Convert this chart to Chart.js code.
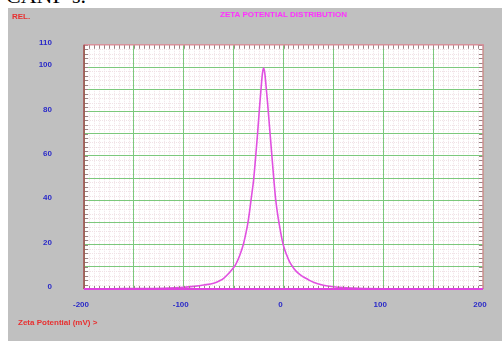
<!DOCTYPE html>
<html>
<head>
<meta charset="utf-8">
<script src="https://cdn.jsdelivr.net/npm/chart.js@4/dist/chart.umd.min.js"></script>
<style>
    html, body { margin: 0; padding: 0; background: #fff; width: 502px; height: 341px; overflow: hidden; }
    #caption { position: absolute; left: 6px; top: -15px; font-family: "Liberation Serif", serif; font-size: 22px; line-height: 22px; color: #000; }
    #panel { position: absolute; left: 8px; top: 8px; width: 494px; height: 333px; background: #c0c0c0; }
</style>
</head>
<body>
<div id="caption">CANP-s.</div>
<div id="panel"><canvas id="zetaChart"></canvas></div>
<script>
// Zeta potential (mV) and relative intensity
const zetaMv = [-200, -180, -160, -140, -120, -100, -90, -80, -70, -64, -60, -56, -52, -48,
    -44, -40, -38, -36, -34, -32, -30, -28, -26, -24, -22, -21, -20, -19, -18,
    -16, -14, -12, -10, -8, -6, -4, -2, 0, 3, 6, 10, 15, 20, 25, 30, 40, 50,
    60, 70, 80, 100, 120, 140, 160, 180, 200];
const relIntensity = [0.05, 0.1, 0.15, 0.2, 0.3, 0.75, 1.2, 1.8, 2.6, 3.7, 4.8, 6.5, 8.6, 11,
    15, 20.5, 24.5, 29, 35, 42, 49, 59, 70, 82, 93, 97.5, 99.5, 98, 94,
    84, 73, 62, 51, 41, 34, 28.5, 23.5, 19.5, 15.5, 12.3, 9.5, 7, 5.4, 4.2, 3, 1.7, 1,
    0.6, 0.4, 0.25, 0.1, 0.05, 0.05, 0.05, 0.05, 0.05];

// Axis ranges and labelled ticks
const xLabels = [-200, -100, 0, 100, 200];
const yLabels = [0, 20, 40, 60, 80, 100, 110];

const chartTitle = 'ZETA POTENTIAL DISTRIBUTION';
const yTitle = 'REL.';
const xTitle = 'Zeta Potential (mV) >';

const tickFont = { family: 'Arial, "Liberation Sans", sans-serif', size: 8, weight: 'bold' };
const labelBlue = '#2a2ac8';

// White plot area with the fine dotted grid underneath the green one
const plotBackground = {
    id: 'plotBackground',
    beforeDraw(chart) {
        const { ctx, chartArea: a, scales } = chart;
        ctx.save();
        ctx.fillStyle = '#ffffff';
        ctx.fillRect(a.left, a.top, a.right - a.left, a.bottom - a.top);
        ctx.strokeStyle = '#f0e2e6';
        ctx.lineWidth = 1;
        ctx.setLineDash([1, 1]);
        ctx.beginPath();
        for (let v = -200; v <= 200; v += 5) {
            if (v % 50 === 0) continue;
            const x = Math.round(scales.x.getPixelForValue(v)) + 0.5;
            ctx.moveTo(x, a.top);
            ctx.lineTo(x, a.bottom);
        }
        for (let v = 0; v <= 110; v += 2) {
            if (v % 10 === 0) continue;
            const y = Math.round(scales.y.getPixelForValue(v)) + 0.5;
            ctx.moveTo(a.left, y);
            ctx.lineTo(a.right, y);
        }
        ctx.stroke();
        ctx.restore();
    }
};

// Frame, small edge ticks and loose text
const plotFrame = {
    id: 'plotFrame',
    afterDraw(chart) {
        const { ctx, chartArea: a, scales } = chart;
        ctx.save();
        ctx.lineWidth = 1;

        // edge ticks
        ctx.strokeStyle = '#9a8484';
        ctx.beginPath();
        for (let v = -200; v <= 200; v += 5) {
            const x = Math.round(scales.x.getPixelForValue(v)) + 0.5;
            ctx.moveTo(x, a.top);
            ctx.lineTo(x, a.top + 4);
            ctx.moveTo(x, a.bottom);
            ctx.lineTo(x, a.bottom - 3);
        }
        for (let v = 0; v <= 110; v += 2) {
            const y = Math.round(scales.y.getPixelForValue(v)) + 0.5;
            ctx.moveTo(a.left, y);
            ctx.lineTo(a.left + 4, y);
            ctx.moveTo(a.right, y);
            ctx.lineTo(a.right - 4, y);
        }
        ctx.stroke();

        // frame
        ctx.strokeStyle = '#d8909a';
        ctx.lineWidth = 1.5;
        ctx.beginPath();
        ctx.moveTo(a.left, a.top);
        ctx.lineTo(a.right, a.top);
        ctx.lineTo(a.right, a.bottom);
        ctx.stroke();
        ctx.strokeStyle = '#a04848';
        ctx.beginPath();
        ctx.moveTo(a.left, a.top);
        ctx.lineTo(a.left, a.bottom);
        ctx.stroke();
        ctx.strokeStyle = '#e040e0';
        ctx.lineWidth = 2;
        ctx.beginPath();
        ctx.moveTo(a.left, a.bottom);
        ctx.lineTo(a.right, a.bottom);
        ctx.stroke();

        // texts
        ctx.font = 'bold 8px Arial, "Liberation Sans", sans-serif';
        ctx.textBaseline = 'middle';
        ctx.fillStyle = '#ff30ff';
        ctx.textAlign = 'center';
        ctx.fillText(chartTitle, (a.left + a.right) / 2, 7);
        ctx.fillStyle = '#e83030';
        ctx.textAlign = 'left';
        ctx.fillText(yTitle, 4, 9);
        ctx.fillText(xTitle, 10, 315);
        ctx.restore();
    }
};

function initZetaChart() {
    const ctx = document.getElementById('zetaChart');

    new Chart(ctx, {
        type: 'line',
        data: {
            datasets: [{
                label: 'Zeta',
                data: zetaMv.map((x, i) => ({ x: x, y: relIntensity[i] })),
                borderColor: '#e050e0',
                borderWidth: 1.6,
                pointRadius: 0,
                cubicInterpolationMode: 'monotone',
                fill: false
            }]
        },
        options: {
            responsive: true,
            maintainAspectRatio: false,
            animation: false,
            layout: {
                padding: { left: 0, top: 32, right: 19, bottom: 0 }
            },
            plugins: {
                legend: { display: false },
                tooltip: { enabled: false }
            },
            scales: {
                x: {
                    type: 'linear',
                    min: -200,
                    max: 200,
                    afterFit: function(scale) { scale.height = 52; },
                    grid: { color: '#7cc87c', lineWidth: 1, drawTicks: false },
                    border: { display: false },
                    ticks: {
                        stepSize: 50,
                        padding: 11,
                        labelOffset: -3,
                        maxRotation: 0,
                        autoSkip: false,
                        color: labelBlue,
                        font: tickFont,
                        callback: function(value) {
                            return xLabels.includes(value) ? String(value) : '';
                        }
                    }
                },
                y: {
                    min: 0,
                    max: 110,
                    afterFit: function(scale) { scale.width = 76; },
                    grid: { color: '#7cc87c', lineWidth: 1, drawTicks: false },
                    border: { display: false },
                    ticks: {
                        stepSize: 10,
                        padding: 32,
                        labelOffset: -2,
                        autoSkip: false,
                        color: labelBlue,
                        font: tickFont,
                        callback: function(value) {
                            return yLabels.includes(value) ? String(value) : '';
                        }
                    }
                }
            }
        },
        plugins: [plotBackground, plotFrame]
    });
}

document.addEventListener('DOMContentLoaded', initZetaChart);
</script>
</body>
</html>
